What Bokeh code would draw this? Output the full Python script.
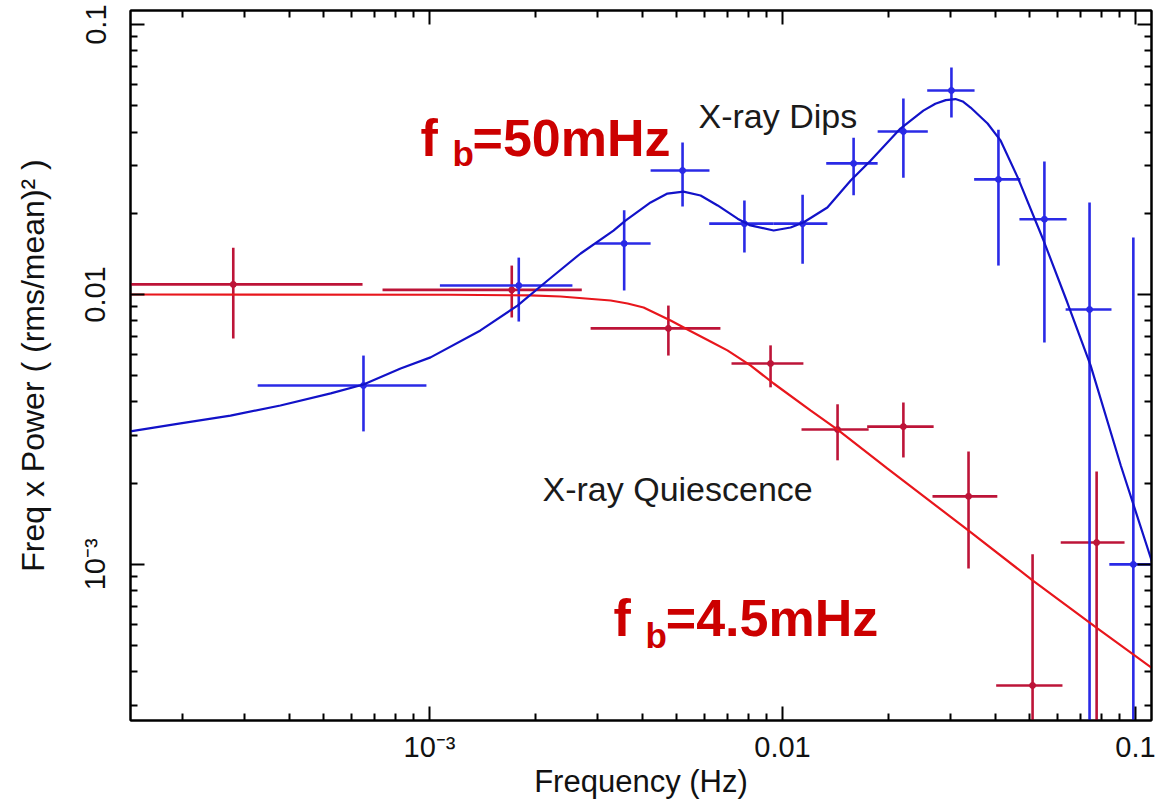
from bokeh.plotting import figure
from bokeh.models import (Range1d, FixedTicker, LogAxis, Label,
                          CustomJSTickFormatter, ColumnDataSource)
from bokeh.embed import file_html
from bokeh.resources import INLINE

# ---------------- data ----------------
# X-ray Dips (blue) power spectrum points
dips_freq    = [6.5e-4, 1.79e-3, 3.56e-3, 5.21e-3, 7.8e-3, 0.0114, 0.0159, 0.0220, 0.0301, 0.0409, 0.0552, 0.0741, 0.0986]
dips_freq_lo = [3.26e-4, 1.07e-3, 2.95e-3, 4.23e-3, 6.2e-3, 9.44e-3, 0.0133, 0.0186, 0.0257, 0.0349, 0.0469, 0.0634, 0.0843]
dips_freq_hi = [9.8e-4, 2.54e-3, 4.23e-3, 6.21e-3, 9.44e-3, 0.0134, 0.0186, 0.0258, 0.0350, 0.0472, 0.0638, 0.0855, 0.115]
dips_pow     = [4.6e-3, 0.0108, 0.01545, 0.0288, 0.0183, 0.0183, 0.0306, 0.0402, 0.057, 0.0267, 0.0190, 8.8e-3, 1.0e-3]
dips_pow_lo  = [3.11e-3, 7.94e-3, 0.01035, 0.0212, 0.0143, 0.0130, 0.0233, 0.0271, 0.0453, 0.0128, 6.64e-3, 1e-5, 1e-5]
dips_pow_hi  = [5.94e-3, 0.0137, 0.0205, 0.0366, 0.0223, 0.0234, 0.0381, 0.0532, 0.0693, 0.0408, 0.0311, 0.0219, 0.01625]

# X-ray Quiescence (red) power spectrum points
quiet_freq    = [2.78e-4, 1.71e-3, 4.75e-3, 9.25e-3, 0.01432, 0.0220, 0.03365, 0.0511, 0.0776]
quiet_freq_lo = [1.2e-4, 7.36e-4, 2.86e-3, 7.17e-3, 0.01132, 0.01737, 0.0266, 0.0403, 0.0614]
quiet_freq_hi = [6.46e-4, 2.70e-3, 6.67e-3, 0.01146, 0.01754, 0.0268, 0.0406, 0.0621, 0.0931]
quiet_pow     = [0.0109, 0.0104, 7.49e-3, 5.55e-3, 3.16e-3, 3.24e-3, 1.787e-3, 3.56e-4, 1.205e-3]
quiet_pow_lo  = [6.87e-3, 8.22e-3, 5.94e-3, 4.53e-3, 2.43e-3, 2.49e-3, 9.66e-4, 1e-5, 1e-5]
quiet_pow_hi  = [0.0149, 0.0128, 9.1e-3, 6.48e-3, 3.92e-3, 3.98e-3, 2.62e-3, 1.09e-3, 2.21e-3]

# model curves
dips_model_freq = [1.42e-4, 1.97e-4, 2.73e-4, 3.78e-4, 5.25e-4, 6.5e-4, 8.28e-4, 1.007e-3, 1.394e-3,
                   1.775e-3, 2.16e-3, 2.68e-3, 3.32e-3, 3.59e-3, 4.23e-3, 4.72e-3, 5.24e-3, 5.86e-3,
                   6.55e-3, 7.46e-3, 8.11e-3, 9.44e-3, 0.01054, 0.01146, 0.0134, 0.0156, 0.01775,
                   0.02158, 0.02506, 0.0271, 0.0290, 0.0309, 0.0324, 0.0341, 0.0381, 0.0415, 0.0464,
                   0.0549, 0.0641, 0.0746, 0.0908, 0.1117]
dips_model_pow = [0.00311, 0.00333, 0.00356, 0.00388, 0.0043, 0.00464, 0.00532, 0.00585, 0.00736,
                  0.0091, 0.01127, 0.01419, 0.01726, 0.01879, 0.02193, 0.02366, 0.02406, 0.02328,
                  0.02138, 0.0191, 0.01803, 0.01726, 0.01771, 0.01848, 0.021, 0.02643, 0.03133,
                  0.0412, 0.048, 0.0509, 0.0525, 0.0530, 0.0519, 0.0493, 0.043, 0.03715, 0.0271,
                  0.01585, 0.00934, 0.00546, 0.00233, 0.00101]
quiet_model_freq = [1.42e-4, 1.147e-3, 1.93e-3, 2.35e-3, 3.26e-3, 3.64e-3, 4.04e-3, 4.82e-3, 5.48e-3,
                    6.25e-3, 6.98e-3, 8.11e-3, 9.44e-3, 0.0120, 0.01432, 0.0198, 0.0336, 0.0511,
                    0.078, 0.1117]
quiet_model_pow = [0.0100, 0.00998, 0.00992, 0.00983, 0.00950, 0.00926, 0.00895, 0.00801, 0.00732,
                   0.0067, 0.00621, 0.00546, 0.00468, 0.00372, 0.00316, 0.00227, 0.001336, 0.000873,
                   0.000579, 0.000412]

# axes
major_ticks = [1e-3, 1e-2, 1e-1]
tick_labels = ["10\u207b\u00b3", "0.01", "0.1"]
minor_ticks = [m * 10.0 ** e for e in (-4, -3, -2, -1) for m in range(2, 10)]
x_title = "Frequency (Hz)"
y_title = "Freq x Power ( (rms/mean)\u00b2 )"

# ---------------- styling ----------------
BLUE_ERR = "#2a2ae6"
BLUE_LINE = "#1212c8"
RED_ERR = "#bd1438"
RED_LINE = "#e8161c"
ANNOT_RED = "#cc0000"
FONT = "Liberation Sans"

p = figure(width=1160, height=802, x_axis_type="log", y_axis_type="log",
           x_range=Range1d(1.422e-4, 0.111), y_range=Range1d(2.64e-4, 0.1128),
           output_backend="svg", toolbar_location=None,
           min_border_left=130, min_border_right=9, min_border_top=10, min_border_bottom=82)
p.xgrid.visible = False
p.ygrid.visible = False
p.outline_line_color = "black"
p.outline_line_width = 2
p.background_fill_color = "white"
p.border_fill_color = "white"

formatter_code = """
for (let i = 0; i < vals.length; i++) {
  if (Math.abs(Math.log10(tick) - Math.log10(vals[i])) < 1e-6) return labels[i];
}
return "";
"""


def style_axis(ax, labelled):
    ax.ticker = FixedTicker(ticks=major_ticks, minor_ticks=minor_ticks)
    ax.axis_line_width = 2
    ax.axis_line_color = "black"
    ax.major_tick_in = 14
    ax.major_tick_out = 0
    ax.minor_tick_in = 7
    ax.minor_tick_out = 0
    ax.major_tick_line_width = 2
    ax.minor_tick_line_width = 2
    ax.major_tick_line_color = "black"
    ax.minor_tick_line_color = "black"
    if labelled:
        ax.formatter = CustomJSTickFormatter(args=dict(vals=major_ticks, labels=tick_labels),
                                             code=formatter_code)
        ax.major_label_text_font = FONT
        ax.major_label_text_font_size = "29px"
        ax.major_label_text_color = "#111111"
        ax.axis_label_text_font = FONT
        ax.axis_label_text_font_size = "31px"
        ax.axis_label_text_font_style = "normal"
        ax.axis_label_text_color = "#111111"
    else:
        ax.formatter = CustomJSTickFormatter(code="return ' ';")
        ax.major_label_text_font_size = "2px"
        ax.major_label_standoff = 0


xa = p.xaxis[0]
ya = p.yaxis[0]
style_axis(xa, True)
style_axis(ya, True)
xa.axis_label = x_title
ya.axis_label = y_title
xa.major_label_standoff = 10
xa.axis_label_standoff = -2
ya.major_label_orientation = "vertical"
ya.major_label_standoff = 19
ya.axis_label_standoff = 26
ya.axis_label_text_font_size = "32px"

top_axis = LogAxis()
right_axis = LogAxis()
style_axis(top_axis, False)
style_axis(right_axis, False)
p.add_layout(top_axis, "above")
p.add_layout(right_axis, "right")

# ---------------- error bars ----------------
quiet_src = ColumnDataSource(dict(f=quiet_freq, flo=quiet_freq_lo, fhi=quiet_freq_hi,
                                  pw=quiet_pow, plo=quiet_pow_lo, phi=quiet_pow_hi))
dips_src = ColumnDataSource(dict(f=dips_freq, flo=dips_freq_lo, fhi=dips_freq_hi,
                                 pw=dips_pow, plo=dips_pow_lo, phi=dips_pow_hi))

for src, col in ((quiet_src, RED_ERR), (dips_src, BLUE_ERR)):
    p.segment(x0="flo", y0="pw", x1="fhi", y1="pw", source=src, line_color=col, line_width=2.6)
    p.segment(x0="f", y0="plo", x1="f", y1="phi", source=src, line_color=col, line_width=2.6)
    p.scatter(x="f", y="pw", source=src, size=6, fill_color=col, line_color=col)

# ---------------- model curves ----------------
p.line(quiet_model_freq, quiet_model_pow, line_color=RED_LINE, line_width=2.2)
p.line(dips_model_freq, dips_model_pow, line_color=BLUE_LINE, line_width=2.2)

# ---------------- annotations ----------------
def lbl(x, y, text, size, color, style="normal"):
    p.add_layout(Label(x=x, y=y, text=text, text_font=FONT, text_font_size=size,
                       text_color=color, text_font_style=style,
                       text_align="left", text_baseline="alphabetic"))


lbl(5.78e-3, 0.0460, "X-ray Dips", "34px", "#1a1a1a")
lbl(2.09e-3, 1.897e-3, "X-ray Quiescence", "34px", "#1a1a1a")

lbl(9.43e-4, 0.03815, "f", "52px", ANNOT_RED, "bold")
lbl(1.162e-3, 0.03326, "b", "35px", ANNOT_RED, "bold")
lbl(1.324e-3, 0.03815, "=50mHz", "52px", ANNOT_RED, "bold")

lbl(3.32e-3, 6.31e-4, "f", "52px", ANNOT_RED, "bold")
lbl(4.09e-3, 5.46e-4, "b", "35px", ANNOT_RED, "bold")
lbl(4.67e-3, 6.31e-4, "=4.5mHz", "52px", ANNOT_RED, "bold")

open("out.html", "w").write(file_html(p, INLINE))
